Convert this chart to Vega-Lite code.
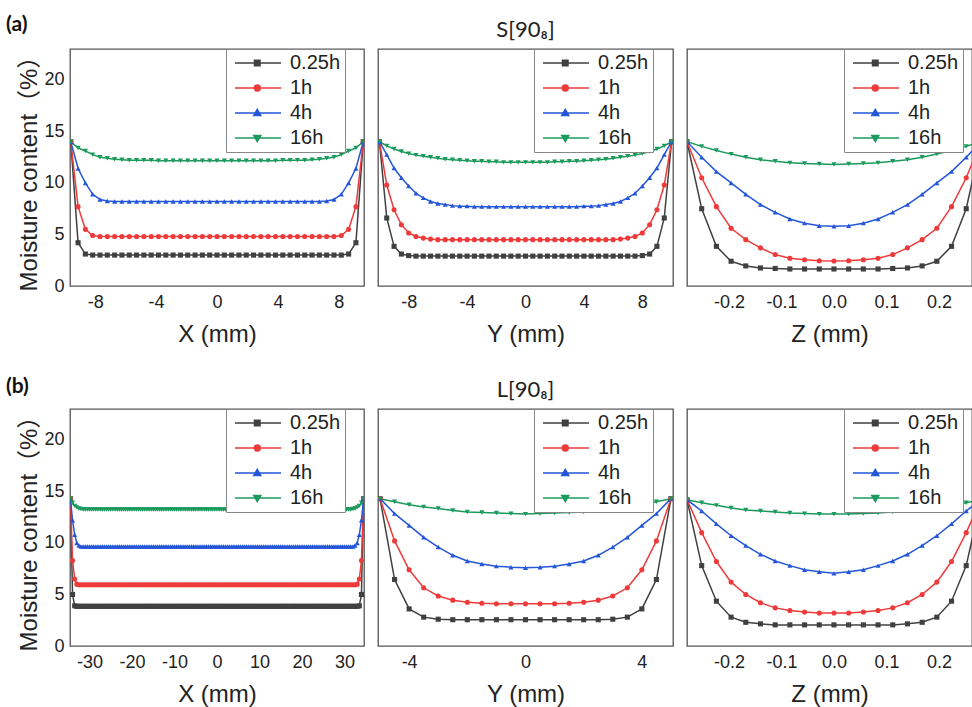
{
"$schema": "https://vega.github.io/schema/vega-lite/v6.json",
"padding": {"left": 5, "top": 13, "right": 0, "bottom": 0},
"background": "white",
"bounds": "flush",
"align": "each",
"columns": 3,
"spacing": {"row": 123, "column": 14},
"data": {"values": [
{"p":"a1","x":-9.6,"h025":14,"h1":14,"h4":14,"h16":14},
{"p":"a1","x":-9.12,"h025":4.2,"h1":7.7,"h4":11.4,"h16":13.4},
{"p":"a1","x":-8.64,"h025":3.1,"h1":5.5,"h4":10,"h16":13.1},
{"p":"a1","x":-8.16,"h025":3,"h1":4.9,"h4":8.9,"h16":12.75},
{"p":"a1","x":-7.68,"h025":3,"h1":4.8,"h4":8.4,"h16":12.5},
{"p":"a1","x":-7.2,"h025":3,"h1":4.8,"h4":8.25,"h16":12.4},
{"p":"a1","x":-6.72,"h025":3,"h1":4.8,"h4":8.2,"h16":12.3},
{"p":"a1","x":-6.24,"h025":3,"h1":4.8,"h4":8.2,"h16":12.25},
{"p":"a1","x":-5.76,"h025":3,"h1":4.8,"h4":8.2,"h16":12.2},
{"p":"a1","x":-5.28,"h025":3,"h1":4.8,"h4":8.2,"h16":12.2},
{"p":"a1","x":-4.8,"h025":3,"h1":4.8,"h4":8.2,"h16":12.2},
{"p":"a1","x":-4.32,"h025":3,"h1":4.8,"h4":8.2,"h16":12.2},
{"p":"a1","x":-3.84,"h025":3,"h1":4.8,"h4":8.2,"h16":12.15},
{"p":"a1","x":-3.36,"h025":3,"h1":4.8,"h4":8.2,"h16":12.15},
{"p":"a1","x":-2.88,"h025":3,"h1":4.8,"h4":8.2,"h16":12.15},
{"p":"a1","x":-2.4,"h025":3,"h1":4.8,"h4":8.2,"h16":12.15},
{"p":"a1","x":-1.92,"h025":3,"h1":4.8,"h4":8.2,"h16":12.15},
{"p":"a1","x":-1.44,"h025":3,"h1":4.8,"h4":8.2,"h16":12.15},
{"p":"a1","x":-0.96,"h025":3,"h1":4.8,"h4":8.2,"h16":12.15},
{"p":"a1","x":-0.48,"h025":3,"h1":4.8,"h4":8.2,"h16":12.15},
{"p":"a1","x":0,"h025":3,"h1":4.8,"h4":8.2,"h16":12.15},
{"p":"a1","x":0.48,"h025":3,"h1":4.8,"h4":8.2,"h16":12.15},
{"p":"a1","x":0.96,"h025":3,"h1":4.8,"h4":8.2,"h16":12.15},
{"p":"a1","x":1.44,"h025":3,"h1":4.8,"h4":8.2,"h16":12.15},
{"p":"a1","x":1.92,"h025":3,"h1":4.8,"h4":8.2,"h16":12.15},
{"p":"a1","x":2.4,"h025":3,"h1":4.8,"h4":8.2,"h16":12.15},
{"p":"a1","x":2.88,"h025":3,"h1":4.8,"h4":8.2,"h16":12.15},
{"p":"a1","x":3.36,"h025":3,"h1":4.8,"h4":8.2,"h16":12.15},
{"p":"a1","x":3.84,"h025":3,"h1":4.8,"h4":8.2,"h16":12.15},
{"p":"a1","x":4.32,"h025":3,"h1":4.8,"h4":8.2,"h16":12.2},
{"p":"a1","x":4.8,"h025":3,"h1":4.8,"h4":8.2,"h16":12.2},
{"p":"a1","x":5.28,"h025":3,"h1":4.8,"h4":8.2,"h16":12.2},
{"p":"a1","x":5.76,"h025":3,"h1":4.8,"h4":8.2,"h16":12.2},
{"p":"a1","x":6.24,"h025":3,"h1":4.8,"h4":8.2,"h16":12.25},
{"p":"a1","x":6.72,"h025":3,"h1":4.8,"h4":8.2,"h16":12.3},
{"p":"a1","x":7.2,"h025":3,"h1":4.8,"h4":8.25,"h16":12.4},
{"p":"a1","x":7.68,"h025":3,"h1":4.8,"h4":8.4,"h16":12.5},
{"p":"a1","x":8.16,"h025":3,"h1":4.9,"h4":8.9,"h16":12.75},
{"p":"a1","x":8.64,"h025":3.1,"h1":5.5,"h4":10,"h16":13.1},
{"p":"a1","x":9.12,"h025":4.2,"h1":7.7,"h4":11.4,"h16":13.4},
{"p":"a1","x":9.6,"h025":14,"h1":14,"h4":14,"h16":14},
{"p":"a2","x":-10,"h025":14,"h1":14,"h4":14,"h16":14},
{"p":"a2","x":-9.5,"h025":6.6,"h1":9.8,"h4":12.75,"h16":13.6},
{"p":"a2","x":-9,"h025":3.85,"h1":7.4,"h4":11.45,"h16":13.3},
{"p":"a2","x":-8.5,"h025":3.1,"h1":5.95,"h4":10.5,"h16":13.05},
{"p":"a2","x":-8,"h025":2.95,"h1":5.15,"h4":9.7,"h16":12.85},
{"p":"a2","x":-7.5,"h025":2.9,"h1":4.8,"h4":9,"h16":12.7},
{"p":"a2","x":-7,"h025":2.9,"h1":4.65,"h4":8.55,"h16":12.6},
{"p":"a2","x":-6.5,"h025":2.9,"h1":4.55,"h4":8.2,"h16":12.5},
{"p":"a2","x":-6,"h025":2.9,"h1":4.5,"h4":8,"h16":12.4},
{"p":"a2","x":-5.5,"h025":2.9,"h1":4.5,"h4":7.9,"h16":12.3},
{"p":"a2","x":-5,"h025":2.9,"h1":4.5,"h4":7.8,"h16":12.25},
{"p":"a2","x":-4.5,"h025":2.9,"h1":4.5,"h4":7.75,"h16":12.2},
{"p":"a2","x":-4,"h025":2.9,"h1":4.5,"h4":7.75,"h16":12.15},
{"p":"a2","x":-3.5,"h025":2.9,"h1":4.5,"h4":7.7,"h16":12.1},
{"p":"a2","x":-3,"h025":2.9,"h1":4.5,"h4":7.7,"h16":12.1},
{"p":"a2","x":-2.5,"h025":2.9,"h1":4.5,"h4":7.7,"h16":12.05},
{"p":"a2","x":-2,"h025":2.9,"h1":4.5,"h4":7.7,"h16":12.05},
{"p":"a2","x":-1.5,"h025":2.9,"h1":4.5,"h4":7.7,"h16":12},
{"p":"a2","x":-1,"h025":2.9,"h1":4.5,"h4":7.7,"h16":12},
{"p":"a2","x":-0.5,"h025":2.9,"h1":4.5,"h4":7.7,"h16":12},
{"p":"a2","x":0,"h025":2.9,"h1":4.5,"h4":7.7,"h16":12},
{"p":"a2","x":0.5,"h025":2.9,"h1":4.5,"h4":7.7,"h16":12},
{"p":"a2","x":1,"h025":2.9,"h1":4.5,"h4":7.7,"h16":12},
{"p":"a2","x":1.5,"h025":2.9,"h1":4.5,"h4":7.7,"h16":12},
{"p":"a2","x":2,"h025":2.9,"h1":4.5,"h4":7.7,"h16":12.05},
{"p":"a2","x":2.5,"h025":2.9,"h1":4.5,"h4":7.7,"h16":12.05},
{"p":"a2","x":3,"h025":2.9,"h1":4.5,"h4":7.7,"h16":12.1},
{"p":"a2","x":3.5,"h025":2.9,"h1":4.5,"h4":7.7,"h16":12.1},
{"p":"a2","x":4,"h025":2.9,"h1":4.5,"h4":7.75,"h16":12.15},
{"p":"a2","x":4.5,"h025":2.9,"h1":4.5,"h4":7.75,"h16":12.2},
{"p":"a2","x":5,"h025":2.9,"h1":4.5,"h4":7.8,"h16":12.25},
{"p":"a2","x":5.5,"h025":2.9,"h1":4.5,"h4":7.9,"h16":12.3},
{"p":"a2","x":6,"h025":2.9,"h1":4.5,"h4":8,"h16":12.4},
{"p":"a2","x":6.5,"h025":2.9,"h1":4.55,"h4":8.2,"h16":12.5},
{"p":"a2","x":7,"h025":2.9,"h1":4.65,"h4":8.55,"h16":12.6},
{"p":"a2","x":7.5,"h025":2.9,"h1":4.8,"h4":9,"h16":12.7},
{"p":"a2","x":8,"h025":2.95,"h1":5.15,"h4":9.7,"h16":12.85},
{"p":"a2","x":8.5,"h025":3.1,"h1":5.95,"h4":10.5,"h16":13.05},
{"p":"a2","x":9,"h025":3.85,"h1":7.4,"h4":11.45,"h16":13.3},
{"p":"a2","x":9.5,"h025":6.6,"h1":9.8,"h4":12.75,"h16":13.6},
{"p":"a2","x":10,"h025":14,"h1":14,"h4":14,"h16":14},
{"p":"a3","x":-0.28,"h025":14,"h1":14,"h4":14,"h16":14},
{"p":"a3","x":-0.252,"h025":7.5,"h1":10.5,"h4":12.5,"h16":13.55},
{"p":"a3","x":-0.224,"h025":3.85,"h1":7.7,"h4":11.1,"h16":13.15},
{"p":"a3","x":-0.196,"h025":2.4,"h1":5.6,"h4":10,"h16":12.8},
{"p":"a3","x":-0.168,"h025":1.95,"h1":4.5,"h4":8.9,"h16":12.5},
{"p":"a3","x":-0.14,"h025":1.75,"h1":3.7,"h4":7.9,"h16":12.25},
{"p":"a3","x":-0.112,"h025":1.7,"h1":3.05,"h4":7.15,"h16":12.1},
{"p":"a3","x":-0.084,"h025":1.65,"h1":2.7,"h4":6.5,"h16":11.95},
{"p":"a3","x":-0.056,"h025":1.65,"h1":2.55,"h4":6.1,"h16":11.9},
{"p":"a3","x":-0.028,"h025":1.65,"h1":2.45,"h4":5.85,"h16":11.85},
{"p":"a3","x":0,"h025":1.65,"h1":2.43,"h4":5.8,"h16":11.8},
{"p":"a3","x":0.028,"h025":1.65,"h1":2.45,"h4":5.85,"h16":11.85},
{"p":"a3","x":0.056,"h025":1.65,"h1":2.55,"h4":6.1,"h16":11.9},
{"p":"a3","x":0.084,"h025":1.65,"h1":2.7,"h4":6.5,"h16":11.95},
{"p":"a3","x":0.112,"h025":1.7,"h1":3.05,"h4":7.15,"h16":12.1},
{"p":"a3","x":0.14,"h025":1.75,"h1":3.7,"h4":7.9,"h16":12.25},
{"p":"a3","x":0.168,"h025":1.95,"h1":4.5,"h4":8.9,"h16":12.5},
{"p":"a3","x":0.196,"h025":2.4,"h1":5.6,"h4":10,"h16":12.8},
{"p":"a3","x":0.224,"h025":3.85,"h1":7.7,"h4":11.1,"h16":13.15},
{"p":"a3","x":0.252,"h025":7.5,"h1":10.5,"h4":12.5,"h16":13.55},
{"p":"a3","x":0.28,"h025":14,"h1":14,"h4":14,"h16":14},
{"p":"b1","x":-34.5,"h025":14.3,"h1":14.3,"h4":14.3,"h16":14.3},
{"p":"b1","x":-34,"h025":5,"h1":8.3,"h4":12.2,"h16":13.9},
{"p":"b1","x":-33.5,"h025":3.9,"h1":6.5,"h4":10.8,"h16":13.6},
{"p":"b1","x":-33,"h025":3.85,"h1":6,"h4":10,"h16":13.45},
{"p":"b1","x":-32.5,"h025":3.85,"h1":5.95,"h4":9.75,"h16":13.35},
{"p":"b1","x":-32,"h025":3.85,"h1":5.95,"h4":9.65,"h16":13.3},
{"p":"b1","x":-31.5,"h025":3.85,"h1":5.95,"h4":9.65,"h16":13.25},
{"p":"b1","x":-31,"h025":3.85,"h1":5.95,"h4":9.65,"h16":13.25},
{"p":"b1","x":-30.5,"h025":3.85,"h1":5.95,"h4":9.65,"h16":13.25},
{"p":"b1","x":-30,"h025":3.85,"h1":5.95,"h4":9.65,"h16":13.25},
{"p":"b1","x":-29.5,"h025":3.85,"h1":5.95,"h4":9.65,"h16":13.25},
{"p":"b1","x":-29,"h025":3.85,"h1":5.95,"h4":9.65,"h16":13.25},
{"p":"b1","x":-28.5,"h025":3.85,"h1":5.95,"h4":9.65,"h16":13.25},
{"p":"b1","x":-28,"h025":3.85,"h1":5.95,"h4":9.65,"h16":13.25},
{"p":"b1","x":-27.5,"h025":3.85,"h1":5.95,"h4":9.65,"h16":13.25},
{"p":"b1","x":-27,"h025":3.85,"h1":5.95,"h4":9.65,"h16":13.25},
{"p":"b1","x":-26.5,"h025":3.85,"h1":5.95,"h4":9.65,"h16":13.25},
{"p":"b1","x":-26,"h025":3.85,"h1":5.95,"h4":9.65,"h16":13.25},
{"p":"b1","x":-25.5,"h025":3.85,"h1":5.95,"h4":9.65,"h16":13.25},
{"p":"b1","x":-25,"h025":3.85,"h1":5.95,"h4":9.65,"h16":13.25},
{"p":"b1","x":-24.5,"h025":3.85,"h1":5.95,"h4":9.65,"h16":13.25},
{"p":"b1","x":-24,"h025":3.85,"h1":5.95,"h4":9.65,"h16":13.25},
{"p":"b1","x":-23.5,"h025":3.85,"h1":5.95,"h4":9.65,"h16":13.25},
{"p":"b1","x":-23,"h025":3.85,"h1":5.95,"h4":9.65,"h16":13.25},
{"p":"b1","x":-22.5,"h025":3.85,"h1":5.95,"h4":9.65,"h16":13.25},
{"p":"b1","x":-22,"h025":3.85,"h1":5.95,"h4":9.65,"h16":13.25},
{"p":"b1","x":-21.5,"h025":3.85,"h1":5.95,"h4":9.65,"h16":13.25},
{"p":"b1","x":-21,"h025":3.85,"h1":5.95,"h4":9.65,"h16":13.25},
{"p":"b1","x":-20.5,"h025":3.85,"h1":5.95,"h4":9.65,"h16":13.25},
{"p":"b1","x":-20,"h025":3.85,"h1":5.95,"h4":9.65,"h16":13.25},
{"p":"b1","x":-19.5,"h025":3.85,"h1":5.95,"h4":9.65,"h16":13.25},
{"p":"b1","x":-19,"h025":3.85,"h1":5.95,"h4":9.65,"h16":13.25},
{"p":"b1","x":-18.5,"h025":3.85,"h1":5.95,"h4":9.65,"h16":13.25},
{"p":"b1","x":-18,"h025":3.85,"h1":5.95,"h4":9.65,"h16":13.25},
{"p":"b1","x":-17.5,"h025":3.85,"h1":5.95,"h4":9.65,"h16":13.25},
{"p":"b1","x":-17,"h025":3.85,"h1":5.95,"h4":9.65,"h16":13.25},
{"p":"b1","x":-16.5,"h025":3.85,"h1":5.95,"h4":9.65,"h16":13.25},
{"p":"b1","x":-16,"h025":3.85,"h1":5.95,"h4":9.65,"h16":13.25},
{"p":"b1","x":-15.5,"h025":3.85,"h1":5.95,"h4":9.65,"h16":13.25},
{"p":"b1","x":-15,"h025":3.85,"h1":5.95,"h4":9.65,"h16":13.25},
{"p":"b1","x":-14.5,"h025":3.85,"h1":5.95,"h4":9.65,"h16":13.25},
{"p":"b1","x":-14,"h025":3.85,"h1":5.95,"h4":9.65,"h16":13.25},
{"p":"b1","x":-13.5,"h025":3.85,"h1":5.95,"h4":9.65,"h16":13.25},
{"p":"b1","x":-13,"h025":3.85,"h1":5.95,"h4":9.65,"h16":13.25},
{"p":"b1","x":-12.5,"h025":3.85,"h1":5.95,"h4":9.65,"h16":13.25},
{"p":"b1","x":-12,"h025":3.85,"h1":5.95,"h4":9.65,"h16":13.25},
{"p":"b1","x":-11.5,"h025":3.85,"h1":5.95,"h4":9.65,"h16":13.25},
{"p":"b1","x":-11,"h025":3.85,"h1":5.95,"h4":9.65,"h16":13.25},
{"p":"b1","x":-10.5,"h025":3.85,"h1":5.95,"h4":9.65,"h16":13.25},
{"p":"b1","x":-10,"h025":3.85,"h1":5.95,"h4":9.65,"h16":13.25},
{"p":"b1","x":-9.5,"h025":3.85,"h1":5.95,"h4":9.65,"h16":13.25},
{"p":"b1","x":-9,"h025":3.85,"h1":5.95,"h4":9.65,"h16":13.25},
{"p":"b1","x":-8.5,"h025":3.85,"h1":5.95,"h4":9.65,"h16":13.25},
{"p":"b1","x":-8,"h025":3.85,"h1":5.95,"h4":9.65,"h16":13.25},
{"p":"b1","x":-7.5,"h025":3.85,"h1":5.95,"h4":9.65,"h16":13.25},
{"p":"b1","x":-7,"h025":3.85,"h1":5.95,"h4":9.65,"h16":13.25},
{"p":"b1","x":-6.5,"h025":3.85,"h1":5.95,"h4":9.65,"h16":13.25},
{"p":"b1","x":-6,"h025":3.85,"h1":5.95,"h4":9.65,"h16":13.25},
{"p":"b1","x":-5.5,"h025":3.85,"h1":5.95,"h4":9.65,"h16":13.25},
{"p":"b1","x":-5,"h025":3.85,"h1":5.95,"h4":9.65,"h16":13.25},
{"p":"b1","x":-4.5,"h025":3.85,"h1":5.95,"h4":9.65,"h16":13.25},
{"p":"b1","x":-4,"h025":3.85,"h1":5.95,"h4":9.65,"h16":13.25},
{"p":"b1","x":-3.5,"h025":3.85,"h1":5.95,"h4":9.65,"h16":13.25},
{"p":"b1","x":-3,"h025":3.85,"h1":5.95,"h4":9.65,"h16":13.25},
{"p":"b1","x":-2.5,"h025":3.85,"h1":5.95,"h4":9.65,"h16":13.25},
{"p":"b1","x":-2,"h025":3.85,"h1":5.95,"h4":9.65,"h16":13.25},
{"p":"b1","x":-1.5,"h025":3.85,"h1":5.95,"h4":9.65,"h16":13.25},
{"p":"b1","x":-1,"h025":3.85,"h1":5.95,"h4":9.65,"h16":13.25},
{"p":"b1","x":-0.5,"h025":3.85,"h1":5.95,"h4":9.65,"h16":13.25},
{"p":"b1","x":0,"h025":3.85,"h1":5.95,"h4":9.65,"h16":13.25},
{"p":"b1","x":0.5,"h025":3.85,"h1":5.95,"h4":9.65,"h16":13.25},
{"p":"b1","x":1,"h025":3.85,"h1":5.95,"h4":9.65,"h16":13.25},
{"p":"b1","x":1.5,"h025":3.85,"h1":5.95,"h4":9.65,"h16":13.25},
{"p":"b1","x":2,"h025":3.85,"h1":5.95,"h4":9.65,"h16":13.25},
{"p":"b1","x":2.5,"h025":3.85,"h1":5.95,"h4":9.65,"h16":13.25},
{"p":"b1","x":3,"h025":3.85,"h1":5.95,"h4":9.65,"h16":13.25},
{"p":"b1","x":3.5,"h025":3.85,"h1":5.95,"h4":9.65,"h16":13.25},
{"p":"b1","x":4,"h025":3.85,"h1":5.95,"h4":9.65,"h16":13.25},
{"p":"b1","x":4.5,"h025":3.85,"h1":5.95,"h4":9.65,"h16":13.25},
{"p":"b1","x":5,"h025":3.85,"h1":5.95,"h4":9.65,"h16":13.25},
{"p":"b1","x":5.5,"h025":3.85,"h1":5.95,"h4":9.65,"h16":13.25},
{"p":"b1","x":6,"h025":3.85,"h1":5.95,"h4":9.65,"h16":13.25},
{"p":"b1","x":6.5,"h025":3.85,"h1":5.95,"h4":9.65,"h16":13.25},
{"p":"b1","x":7,"h025":3.85,"h1":5.95,"h4":9.65,"h16":13.25},
{"p":"b1","x":7.5,"h025":3.85,"h1":5.95,"h4":9.65,"h16":13.25},
{"p":"b1","x":8,"h025":3.85,"h1":5.95,"h4":9.65,"h16":13.25},
{"p":"b1","x":8.5,"h025":3.85,"h1":5.95,"h4":9.65,"h16":13.25},
{"p":"b1","x":9,"h025":3.85,"h1":5.95,"h4":9.65,"h16":13.25},
{"p":"b1","x":9.5,"h025":3.85,"h1":5.95,"h4":9.65,"h16":13.25},
{"p":"b1","x":10,"h025":3.85,"h1":5.95,"h4":9.65,"h16":13.25},
{"p":"b1","x":10.5,"h025":3.85,"h1":5.95,"h4":9.65,"h16":13.25},
{"p":"b1","x":11,"h025":3.85,"h1":5.95,"h4":9.65,"h16":13.25},
{"p":"b1","x":11.5,"h025":3.85,"h1":5.95,"h4":9.65,"h16":13.25},
{"p":"b1","x":12,"h025":3.85,"h1":5.95,"h4":9.65,"h16":13.25},
{"p":"b1","x":12.5,"h025":3.85,"h1":5.95,"h4":9.65,"h16":13.25},
{"p":"b1","x":13,"h025":3.85,"h1":5.95,"h4":9.65,"h16":13.25},
{"p":"b1","x":13.5,"h025":3.85,"h1":5.95,"h4":9.65,"h16":13.25},
{"p":"b1","x":14,"h025":3.85,"h1":5.95,"h4":9.65,"h16":13.25},
{"p":"b1","x":14.5,"h025":3.85,"h1":5.95,"h4":9.65,"h16":13.25},
{"p":"b1","x":15,"h025":3.85,"h1":5.95,"h4":9.65,"h16":13.25},
{"p":"b1","x":15.5,"h025":3.85,"h1":5.95,"h4":9.65,"h16":13.25},
{"p":"b1","x":16,"h025":3.85,"h1":5.95,"h4":9.65,"h16":13.25},
{"p":"b1","x":16.5,"h025":3.85,"h1":5.95,"h4":9.65,"h16":13.25},
{"p":"b1","x":17,"h025":3.85,"h1":5.95,"h4":9.65,"h16":13.25},
{"p":"b1","x":17.5,"h025":3.85,"h1":5.95,"h4":9.65,"h16":13.25},
{"p":"b1","x":18,"h025":3.85,"h1":5.95,"h4":9.65,"h16":13.25},
{"p":"b1","x":18.5,"h025":3.85,"h1":5.95,"h4":9.65,"h16":13.25},
{"p":"b1","x":19,"h025":3.85,"h1":5.95,"h4":9.65,"h16":13.25},
{"p":"b1","x":19.5,"h025":3.85,"h1":5.95,"h4":9.65,"h16":13.25},
{"p":"b1","x":20,"h025":3.85,"h1":5.95,"h4":9.65,"h16":13.25},
{"p":"b1","x":20.5,"h025":3.85,"h1":5.95,"h4":9.65,"h16":13.25},
{"p":"b1","x":21,"h025":3.85,"h1":5.95,"h4":9.65,"h16":13.25},
{"p":"b1","x":21.5,"h025":3.85,"h1":5.95,"h4":9.65,"h16":13.25},
{"p":"b1","x":22,"h025":3.85,"h1":5.95,"h4":9.65,"h16":13.25},
{"p":"b1","x":22.5,"h025":3.85,"h1":5.95,"h4":9.65,"h16":13.25},
{"p":"b1","x":23,"h025":3.85,"h1":5.95,"h4":9.65,"h16":13.25},
{"p":"b1","x":23.5,"h025":3.85,"h1":5.95,"h4":9.65,"h16":13.25},
{"p":"b1","x":24,"h025":3.85,"h1":5.95,"h4":9.65,"h16":13.25},
{"p":"b1","x":24.5,"h025":3.85,"h1":5.95,"h4":9.65,"h16":13.25},
{"p":"b1","x":25,"h025":3.85,"h1":5.95,"h4":9.65,"h16":13.25},
{"p":"b1","x":25.5,"h025":3.85,"h1":5.95,"h4":9.65,"h16":13.25},
{"p":"b1","x":26,"h025":3.85,"h1":5.95,"h4":9.65,"h16":13.25},
{"p":"b1","x":26.5,"h025":3.85,"h1":5.95,"h4":9.65,"h16":13.25},
{"p":"b1","x":27,"h025":3.85,"h1":5.95,"h4":9.65,"h16":13.25},
{"p":"b1","x":27.5,"h025":3.85,"h1":5.95,"h4":9.65,"h16":13.25},
{"p":"b1","x":28,"h025":3.85,"h1":5.95,"h4":9.65,"h16":13.25},
{"p":"b1","x":28.5,"h025":3.85,"h1":5.95,"h4":9.65,"h16":13.25},
{"p":"b1","x":29,"h025":3.85,"h1":5.95,"h4":9.65,"h16":13.25},
{"p":"b1","x":29.5,"h025":3.85,"h1":5.95,"h4":9.65,"h16":13.25},
{"p":"b1","x":30,"h025":3.85,"h1":5.95,"h4":9.65,"h16":13.25},
{"p":"b1","x":30.5,"h025":3.85,"h1":5.95,"h4":9.65,"h16":13.25},
{"p":"b1","x":31,"h025":3.85,"h1":5.95,"h4":9.65,"h16":13.25},
{"p":"b1","x":31.5,"h025":3.85,"h1":5.95,"h4":9.65,"h16":13.25},
{"p":"b1","x":32,"h025":3.85,"h1":5.95,"h4":9.65,"h16":13.3},
{"p":"b1","x":32.5,"h025":3.85,"h1":5.95,"h4":9.75,"h16":13.35},
{"p":"b1","x":33,"h025":3.85,"h1":6,"h4":10,"h16":13.45},
{"p":"b1","x":33.5,"h025":3.9,"h1":6.5,"h4":10.8,"h16":13.6},
{"p":"b1","x":34,"h025":5,"h1":8.3,"h4":12.2,"h16":13.9},
{"p":"b1","x":34.5,"h025":14.3,"h1":14.3,"h4":14.3,"h16":14.3},
{"p":"b2","x":-5,"h025":14.3,"h1":14.3,"h4":14.3,"h16":14.3},
{"p":"b2","x":-4.5,"h025":6.45,"h1":10.2,"h4":12.85,"h16":14},
{"p":"b2","x":-4,"h025":3.6,"h1":7.4,"h4":11.7,"h16":13.7},
{"p":"b2","x":-3.5,"h025":2.8,"h1":5.65,"h4":10.55,"h16":13.5},
{"p":"b2","x":-3,"h025":2.6,"h1":4.85,"h4":9.6,"h16":13.35},
{"p":"b2","x":-2.5,"h025":2.55,"h1":4.45,"h4":8.8,"h16":13.15},
{"p":"b2","x":-2,"h025":2.55,"h1":4.25,"h4":8.25,"h16":13},
{"p":"b2","x":-1.5,"h025":2.55,"h1":4.15,"h4":7.95,"h16":12.95},
{"p":"b2","x":-1,"h025":2.55,"h1":4.1,"h4":7.75,"h16":12.9},
{"p":"b2","x":-0.5,"h025":2.55,"h1":4.1,"h4":7.65,"h16":12.85},
{"p":"b2","x":0,"h025":2.55,"h1":4.1,"h4":7.6,"h16":12.8},
{"p":"b2","x":0.5,"h025":2.55,"h1":4.1,"h4":7.65,"h16":12.85},
{"p":"b2","x":1,"h025":2.55,"h1":4.1,"h4":7.75,"h16":12.9},
{"p":"b2","x":1.5,"h025":2.55,"h1":4.15,"h4":7.95,"h16":12.95},
{"p":"b2","x":2,"h025":2.55,"h1":4.25,"h4":8.25,"h16":13},
{"p":"b2","x":2.5,"h025":2.55,"h1":4.45,"h4":8.8,"h16":13.15},
{"p":"b2","x":3,"h025":2.6,"h1":4.85,"h4":9.6,"h16":13.35},
{"p":"b2","x":3.5,"h025":2.8,"h1":5.65,"h4":10.55,"h16":13.5},
{"p":"b2","x":4,"h025":3.6,"h1":7.4,"h4":11.7,"h16":13.7},
{"p":"b2","x":4.5,"h025":6.45,"h1":10.2,"h4":12.85,"h16":14},
{"p":"b2","x":5,"h025":14.3,"h1":14.3,"h4":14.3,"h16":14.3},
{"p":"b3","x":-0.28,"h025":14.2,"h1":14.2,"h4":14.2,"h16":14.2},
{"p":"b3","x":-0.252,"h025":7.8,"h1":11,"h4":13.1,"h16":13.9},
{"p":"b3","x":-0.224,"h025":4.35,"h1":8.2,"h4":11.85,"h16":13.65},
{"p":"b3","x":-0.196,"h025":2.8,"h1":6.2,"h4":10.7,"h16":13.4},
{"p":"b3","x":-0.168,"h025":2.3,"h1":5,"h4":9.75,"h16":13.2},
{"p":"b3","x":-0.14,"h025":2.15,"h1":4.2,"h4":8.9,"h16":13.1},
{"p":"b3","x":-0.112,"h025":2.05,"h1":3.7,"h4":8.25,"h16":13},
{"p":"b3","x":-0.084,"h025":2.05,"h1":3.45,"h4":7.8,"h16":12.9},
{"p":"b3","x":-0.056,"h025":2.05,"h1":3.3,"h4":7.4,"h16":12.85},
{"p":"b3","x":-0.028,"h025":2.05,"h1":3.2,"h4":7.2,"h16":12.8},
{"p":"b3","x":0,"h025":2.05,"h1":3.2,"h4":7.05,"h16":12.8},
{"p":"b3","x":0.028,"h025":2.05,"h1":3.2,"h4":7.2,"h16":12.8},
{"p":"b3","x":0.056,"h025":2.05,"h1":3.3,"h4":7.4,"h16":12.85},
{"p":"b3","x":0.084,"h025":2.05,"h1":3.45,"h4":7.8,"h16":12.9},
{"p":"b3","x":0.112,"h025":2.05,"h1":3.7,"h4":8.25,"h16":13},
{"p":"b3","x":0.14,"h025":2.15,"h1":4.2,"h4":8.9,"h16":13.1},
{"p":"b3","x":0.168,"h025":2.3,"h1":5,"h4":9.75,"h16":13.2},
{"p":"b3","x":0.196,"h025":2.8,"h1":6.2,"h4":10.7,"h16":13.4},
{"p":"b3","x":0.224,"h025":4.35,"h1":8.2,"h4":11.85,"h16":13.65},
{"p":"b3","x":0.252,"h025":7.8,"h1":11,"h4":13.1,"h16":13.9},
{"p":"b3","x":0.28,"h025":14.2,"h1":14.2,"h4":14.2,"h16":14.2}
]},
"resolve": {"scale": {"color": "independent", "shape": "independent", "fill": "independent", "stroke": "independent"}, "legend": {"color": "independent", "shape": "independent", "fill": "independent", "stroke": "independent"}},
"concat": [
{
 "width": 294, "height": 237,
 "title": {"text": "(a)", "anchor": "start", "frame": "group", "dx": -64, "offset": -8, "baseline": "alphabetic", "font": "Lato", "fontSize": 21, "fontWeight": "bold", "color": "#111"},
 "transform": [{"filter": "datum.p == 'a1'"}, {"fold": ["h025", "h1", "h4", "h16"], "as": ["t", "mc"]}],
 "encoding": {
  "x": {"field": "x", "type": "quantitative", "scale": {"domain": [-9.65, 9.65], "nice": false, "zero": false}, "axis": {"values": [-8, -4, 0, 4, 8], "title": "X (mm)"}},
  "y": {"field": "mc", "type": "quantitative", "scale": {"domain": [0, 23], "nice": false}, "axis": {"values": [0, 5, 10, 15, 20], "title": "Moisture content（%）"}}
 },
 "layer": [
  {"mark": {"type": "line", "strokeWidth": 1.5, "clip": true}, "encoding": {"color": {"field": "t", "type": "nominal", "scale": {"domain": ["h025", "h1", "h4", "h16"], "range": ["#404040", "#ee3a3a", "#2356d8", "#1b9a5c"]}, "legend": null}}},
  {"mark": {"type": "point", "filled": true, "size": 26, "opacity": 1, "strokeWidth": 0, "clip": true},
   "encoding": {"color": {"field": "t", "type": "nominal", "scale": {"domain": ["h025", "h1", "h4", "h16"], "range": ["#404040", "#ee3a3a", "#2356d8", "#1b9a5c"]}, "legend": null}, "shape": {"field": "t", "type": "nominal", "scale": {"domain": ["h025", "h1", "h4", "h16"], "range": ["square", "circle", "triangle-up", "triangle-down"]}, "legend": null}}},
  {"transform": [{"filter": "false"}], "mark": {"type": "point", "filled": true, "size": 100, "opacity": 1, "strokeWidth": 1.5},
   "encoding": {
    "fill": {"field": "t", "type": "nominal", "scale": {"domain": ["h025", "h1", "h4", "h16"], "range": ["#404040", "#ee3a3a", "#2356d8", "#1b9a5c"]}, "legend": {"orient": "none", "legendX": 156, "legendY": 0, "title": null, "labelExpr": "datum.value == 'h025' ? '0.25h' : datum.value == 'h1' ? '1h' : datum.value == 'h4' ? '4h' : '16h'"}},
    "stroke": {"field": "t", "type": "nominal", "scale": {"domain": ["h025", "h1", "h4", "h16"], "range": ["#404040", "#ee3a3a", "#2356d8", "#1b9a5c"]}, "legend": {"orient": "none", "legendX": 156, "legendY": 0, "title": null, "labelExpr": "datum.value == 'h025' ? '0.25h' : datum.value == 'h1' ? '1h' : datum.value == 'h4' ? '4h' : '16h'"}},
    "shape": {"field": "t", "type": "nominal", "scale": {"domain": ["h025", "h1", "h4", "h16"], "range": ["M-1,0H8.2M2.9,-0.55H4V0.55H2.9Z", "M-1,0H8.2M2.85,0A0.6,0.6 0 1,0 4.05,0A0.6,0.6 0 1,0 2.85,0Z", "M-1,0H8.2M3.45,-0.7L4.15,0.5H2.75Z", "M-1,0H8.2M3.45,0.7L4.15,-0.5H2.75Z"]}, "legend": {"orient": "none", "legendX": 156, "legendY": 0, "title": null, "labelExpr": "datum.value == 'h025' ? '0.25h' : datum.value == 'h1' ? '1h' : datum.value == 'h4' ? '4h' : '16h'"}}}}
 ],
 "resolve": {"scale": {"shape": "independent", "fill": "independent", "stroke": "independent"}}
},
{
 "width": 295, "height": 237,
 "title": {"text": "S[90₈]", "anchor": "middle", "frame": "group", "offset": -10, "baseline": "alphabetic", "font": "Lato", "fontSize": 22, "fontWeight": "normal", "color": "#222"},
 "transform": [{"filter": "datum.p == 'a2'"}, {"fold": ["h025", "h1", "h4", "h16"], "as": ["t", "mc"]}],
 "encoding": {
  "x": {"field": "x", "type": "quantitative", "scale": {"domain": [-10.1, 10.1], "nice": false, "zero": false}, "axis": {"values": [-8, -4, 0, 4, 8], "title": "Y (mm)"}},
  "y": {"field": "mc", "type": "quantitative", "scale": {"domain": [0, 23], "nice": false}, "axis": null}
 },
 "layer": [
  {"mark": {"type": "line", "strokeWidth": 1.5, "clip": true}, "encoding": {"color": {"field": "t", "type": "nominal", "scale": {"domain": ["h025", "h1", "h4", "h16"], "range": ["#404040", "#ee3a3a", "#2356d8", "#1b9a5c"]}, "legend": null}}},
  {"mark": {"type": "point", "filled": true, "size": 26, "opacity": 1, "strokeWidth": 0, "clip": true},
   "encoding": {"color": {"field": "t", "type": "nominal", "scale": {"domain": ["h025", "h1", "h4", "h16"], "range": ["#404040", "#ee3a3a", "#2356d8", "#1b9a5c"]}, "legend": null}, "shape": {"field": "t", "type": "nominal", "scale": {"domain": ["h025", "h1", "h4", "h16"], "range": ["square", "circle", "triangle-up", "triangle-down"]}, "legend": null}}},
  {"transform": [{"filter": "false"}], "mark": {"type": "point", "filled": true, "size": 100, "opacity": 1, "strokeWidth": 1.5},
   "encoding": {
    "fill": {"field": "t", "type": "nominal", "scale": {"domain": ["h025", "h1", "h4", "h16"], "range": ["#404040", "#ee3a3a", "#2356d8", "#1b9a5c"]}, "legend": {"orient": "none", "legendX": 156, "legendY": 0, "title": null, "labelExpr": "datum.value == 'h025' ? '0.25h' : datum.value == 'h1' ? '1h' : datum.value == 'h4' ? '4h' : '16h'"}},
    "stroke": {"field": "t", "type": "nominal", "scale": {"domain": ["h025", "h1", "h4", "h16"], "range": ["#404040", "#ee3a3a", "#2356d8", "#1b9a5c"]}, "legend": {"orient": "none", "legendX": 156, "legendY": 0, "title": null, "labelExpr": "datum.value == 'h025' ? '0.25h' : datum.value == 'h1' ? '1h' : datum.value == 'h4' ? '4h' : '16h'"}},
    "shape": {"field": "t", "type": "nominal", "scale": {"domain": ["h025", "h1", "h4", "h16"], "range": ["M-1,0H8.2M2.9,-0.55H4V0.55H2.9Z", "M-1,0H8.2M2.85,0A0.6,0.6 0 1,0 4.05,0A0.6,0.6 0 1,0 2.85,0Z", "M-1,0H8.2M3.45,-0.7L4.15,0.5H2.75Z", "M-1,0H8.2M3.45,0.7L4.15,-0.5H2.75Z"]}, "legend": {"orient": "none", "legendX": 156, "legendY": 0, "title": null, "labelExpr": "datum.value == 'h025' ? '0.25h' : datum.value == 'h1' ? '1h' : datum.value == 'h4' ? '4h' : '16h'"}}}}
 ],
 "resolve": {"scale": {"shape": "independent", "fill": "independent", "stroke": "independent"}}
},
{
 "width": 285, "height": 237,
 "transform": [{"filter": "datum.p == 'a3'"}, {"fold": ["h025", "h1", "h4", "h16"], "as": ["t", "mc"]}],
 "encoding": {
  "x": {"field": "x", "type": "quantitative", "scale": {"domain": [-0.28, 0.263], "nice": false, "zero": false}, "axis": {"values": [-0.2, -0.1, 0, 0.1, 0.2], "format": ".1f", "title": "Z (mm)"}},
  "y": {"field": "mc", "type": "quantitative", "scale": {"domain": [0, 23], "nice": false}, "axis": null}
 },
 "layer": [
  {"mark": {"type": "line", "strokeWidth": 1.5, "clip": true}, "encoding": {"color": {"field": "t", "type": "nominal", "scale": {"domain": ["h025", "h1", "h4", "h16"], "range": ["#404040", "#ee3a3a", "#2356d8", "#1b9a5c"]}, "legend": null}}},
  {"mark": {"type": "point", "filled": true, "size": 26, "opacity": 1, "strokeWidth": 0, "clip": true},
   "encoding": {"color": {"field": "t", "type": "nominal", "scale": {"domain": ["h025", "h1", "h4", "h16"], "range": ["#404040", "#ee3a3a", "#2356d8", "#1b9a5c"]}, "legend": null}, "shape": {"field": "t", "type": "nominal", "scale": {"domain": ["h025", "h1", "h4", "h16"], "range": ["square", "circle", "triangle-up", "triangle-down"]}, "legend": null}}},
  {"transform": [{"filter": "false"}], "mark": {"type": "point", "filled": true, "size": 100, "opacity": 1, "strokeWidth": 1.5},
   "encoding": {
    "fill": {"field": "t", "type": "nominal", "scale": {"domain": ["h025", "h1", "h4", "h16"], "range": ["#404040", "#ee3a3a", "#2356d8", "#1b9a5c"]}, "legend": {"orient": "none", "legendX": 157, "legendY": 0, "title": null, "labelExpr": "datum.value == 'h025' ? '0.25h' : datum.value == 'h1' ? '1h' : datum.value == 'h4' ? '4h' : '16h'"}},
    "stroke": {"field": "t", "type": "nominal", "scale": {"domain": ["h025", "h1", "h4", "h16"], "range": ["#404040", "#ee3a3a", "#2356d8", "#1b9a5c"]}, "legend": {"orient": "none", "legendX": 157, "legendY": 0, "title": null, "labelExpr": "datum.value == 'h025' ? '0.25h' : datum.value == 'h1' ? '1h' : datum.value == 'h4' ? '4h' : '16h'"}},
    "shape": {"field": "t", "type": "nominal", "scale": {"domain": ["h025", "h1", "h4", "h16"], "range": ["M-1,0H8.2M2.9,-0.55H4V0.55H2.9Z", "M-1,0H8.2M2.85,0A0.6,0.6 0 1,0 4.05,0A0.6,0.6 0 1,0 2.85,0Z", "M-1,0H8.2M3.45,-0.7L4.15,0.5H2.75Z", "M-1,0H8.2M3.45,0.7L4.15,-0.5H2.75Z"]}, "legend": {"orient": "none", "legendX": 157, "legendY": 0, "title": null, "labelExpr": "datum.value == 'h025' ? '0.25h' : datum.value == 'h1' ? '1h' : datum.value == 'h4' ? '4h' : '16h'"}}}}
 ],
 "resolve": {"scale": {"shape": "independent", "fill": "independent", "stroke": "independent"}}
},
{
 "width": 294, "height": 237,
 "title": {"text": "(b)", "anchor": "start", "frame": "group", "dx": -64, "offset": -10, "baseline": "alphabetic", "font": "Lato", "fontSize": 21, "fontWeight": "bold", "color": "#111"},
 "transform": [{"filter": "datum.p == 'b1'"}, {"fold": ["h025", "h1", "h4", "h16"], "as": ["t", "mc"]}],
 "encoding": {
  "x": {"field": "x", "type": "quantitative", "scale": {"domain": [-34.6, 34.6], "nice": false, "zero": false}, "axis": {"values": [-30, -20, -10, 0, 10, 20, 30], "title": "X (mm)"}},
  "y": {"field": "mc", "type": "quantitative", "scale": {"domain": [0, 23], "nice": false}, "axis": {"values": [0, 5, 10, 15, 20], "title": "Moisture content（%）"}}
 },
 "layer": [
  {"mark": {"type": "line", "strokeWidth": 1.5, "clip": true}, "encoding": {"color": {"field": "t", "type": "nominal", "scale": {"domain": ["h025", "h1", "h4", "h16"], "range": ["#404040", "#ee3a3a", "#2356d8", "#1b9a5c"]}, "legend": null}}},
  {"mark": {"type": "point", "filled": true, "size": 26, "opacity": 1, "strokeWidth": 0, "clip": true},
   "encoding": {"color": {"field": "t", "type": "nominal", "scale": {"domain": ["h025", "h1", "h4", "h16"], "range": ["#404040", "#ee3a3a", "#2356d8", "#1b9a5c"]}, "legend": null}, "shape": {"field": "t", "type": "nominal", "scale": {"domain": ["h025", "h1", "h4", "h16"], "range": ["square", "circle", "triangle-up", "triangle-down"]}, "legend": null}}},
  {"transform": [{"filter": "false"}], "mark": {"type": "point", "filled": true, "size": 100, "opacity": 1, "strokeWidth": 1.5},
   "encoding": {
    "fill": {"field": "t", "type": "nominal", "scale": {"domain": ["h025", "h1", "h4", "h16"], "range": ["#404040", "#ee3a3a", "#2356d8", "#1b9a5c"]}, "legend": {"orient": "none", "legendX": 156, "legendY": 0, "title": null, "labelExpr": "datum.value == 'h025' ? '0.25h' : datum.value == 'h1' ? '1h' : datum.value == 'h4' ? '4h' : '16h'"}},
    "stroke": {"field": "t", "type": "nominal", "scale": {"domain": ["h025", "h1", "h4", "h16"], "range": ["#404040", "#ee3a3a", "#2356d8", "#1b9a5c"]}, "legend": {"orient": "none", "legendX": 156, "legendY": 0, "title": null, "labelExpr": "datum.value == 'h025' ? '0.25h' : datum.value == 'h1' ? '1h' : datum.value == 'h4' ? '4h' : '16h'"}},
    "shape": {"field": "t", "type": "nominal", "scale": {"domain": ["h025", "h1", "h4", "h16"], "range": ["M-1,0H8.2M2.9,-0.55H4V0.55H2.9Z", "M-1,0H8.2M2.85,0A0.6,0.6 0 1,0 4.05,0A0.6,0.6 0 1,0 2.85,0Z", "M-1,0H8.2M3.45,-0.7L4.15,0.5H2.75Z", "M-1,0H8.2M3.45,0.7L4.15,-0.5H2.75Z"]}, "legend": {"orient": "none", "legendX": 156, "legendY": 0, "title": null, "labelExpr": "datum.value == 'h025' ? '0.25h' : datum.value == 'h1' ? '1h' : datum.value == 'h4' ? '4h' : '16h'"}}}}
 ],
 "resolve": {"scale": {"shape": "independent", "fill": "independent", "stroke": "independent"}}
},
{
 "width": 295, "height": 237,
 "title": {"text": "L[90₈]", "anchor": "middle", "frame": "group", "offset": -10, "baseline": "alphabetic", "font": "Lato", "fontSize": 22, "fontWeight": "normal", "color": "#222"},
 "transform": [{"filter": "datum.p == 'b2'"}, {"fold": ["h025", "h1", "h4", "h16"], "as": ["t", "mc"]}],
 "encoding": {
  "x": {"field": "x", "type": "quantitative", "scale": {"domain": [-5.07, 5.07], "nice": false, "zero": false}, "axis": {"values": [-4, 0, 4], "title": "Y (mm)"}},
  "y": {"field": "mc", "type": "quantitative", "scale": {"domain": [0, 23], "nice": false}, "axis": null}
 },
 "layer": [
  {"mark": {"type": "line", "strokeWidth": 1.5, "clip": true}, "encoding": {"color": {"field": "t", "type": "nominal", "scale": {"domain": ["h025", "h1", "h4", "h16"], "range": ["#404040", "#ee3a3a", "#2356d8", "#1b9a5c"]}, "legend": null}}},
  {"mark": {"type": "point", "filled": true, "size": 26, "opacity": 1, "strokeWidth": 0, "clip": true},
   "encoding": {"color": {"field": "t", "type": "nominal", "scale": {"domain": ["h025", "h1", "h4", "h16"], "range": ["#404040", "#ee3a3a", "#2356d8", "#1b9a5c"]}, "legend": null}, "shape": {"field": "t", "type": "nominal", "scale": {"domain": ["h025", "h1", "h4", "h16"], "range": ["square", "circle", "triangle-up", "triangle-down"]}, "legend": null}}},
  {"transform": [{"filter": "false"}], "mark": {"type": "point", "filled": true, "size": 100, "opacity": 1, "strokeWidth": 1.5},
   "encoding": {
    "fill": {"field": "t", "type": "nominal", "scale": {"domain": ["h025", "h1", "h4", "h16"], "range": ["#404040", "#ee3a3a", "#2356d8", "#1b9a5c"]}, "legend": {"orient": "none", "legendX": 156, "legendY": 0, "title": null, "labelExpr": "datum.value == 'h025' ? '0.25h' : datum.value == 'h1' ? '1h' : datum.value == 'h4' ? '4h' : '16h'"}},
    "stroke": {"field": "t", "type": "nominal", "scale": {"domain": ["h025", "h1", "h4", "h16"], "range": ["#404040", "#ee3a3a", "#2356d8", "#1b9a5c"]}, "legend": {"orient": "none", "legendX": 156, "legendY": 0, "title": null, "labelExpr": "datum.value == 'h025' ? '0.25h' : datum.value == 'h1' ? '1h' : datum.value == 'h4' ? '4h' : '16h'"}},
    "shape": {"field": "t", "type": "nominal", "scale": {"domain": ["h025", "h1", "h4", "h16"], "range": ["M-1,0H8.2M2.9,-0.55H4V0.55H2.9Z", "M-1,0H8.2M2.85,0A0.6,0.6 0 1,0 4.05,0A0.6,0.6 0 1,0 2.85,0Z", "M-1,0H8.2M3.45,-0.7L4.15,0.5H2.75Z", "M-1,0H8.2M3.45,0.7L4.15,-0.5H2.75Z"]}, "legend": {"orient": "none", "legendX": 156, "legendY": 0, "title": null, "labelExpr": "datum.value == 'h025' ? '0.25h' : datum.value == 'h1' ? '1h' : datum.value == 'h4' ? '4h' : '16h'"}}}}
 ],
 "resolve": {"scale": {"shape": "independent", "fill": "independent", "stroke": "independent"}}
},
{
 "width": 285, "height": 237,
 "transform": [{"filter": "datum.p == 'b3'"}, {"fold": ["h025", "h1", "h4", "h16"], "as": ["t", "mc"]}],
 "encoding": {
  "x": {"field": "x", "type": "quantitative", "scale": {"domain": [-0.28, 0.263], "nice": false, "zero": false}, "axis": {"values": [-0.2, -0.1, 0, 0.1, 0.2], "format": ".1f", "title": "Z (mm)"}},
  "y": {"field": "mc", "type": "quantitative", "scale": {"domain": [0, 23], "nice": false}, "axis": null}
 },
 "layer": [
  {"mark": {"type": "line", "strokeWidth": 1.5, "clip": true}, "encoding": {"color": {"field": "t", "type": "nominal", "scale": {"domain": ["h025", "h1", "h4", "h16"], "range": ["#404040", "#ee3a3a", "#2356d8", "#1b9a5c"]}, "legend": null}}},
  {"mark": {"type": "point", "filled": true, "size": 26, "opacity": 1, "strokeWidth": 0, "clip": true},
   "encoding": {"color": {"field": "t", "type": "nominal", "scale": {"domain": ["h025", "h1", "h4", "h16"], "range": ["#404040", "#ee3a3a", "#2356d8", "#1b9a5c"]}, "legend": null}, "shape": {"field": "t", "type": "nominal", "scale": {"domain": ["h025", "h1", "h4", "h16"], "range": ["square", "circle", "triangle-up", "triangle-down"]}, "legend": null}}},
  {"transform": [{"filter": "false"}], "mark": {"type": "point", "filled": true, "size": 100, "opacity": 1, "strokeWidth": 1.5},
   "encoding": {
    "fill": {"field": "t", "type": "nominal", "scale": {"domain": ["h025", "h1", "h4", "h16"], "range": ["#404040", "#ee3a3a", "#2356d8", "#1b9a5c"]}, "legend": {"orient": "none", "legendX": 157, "legendY": 0, "title": null, "labelExpr": "datum.value == 'h025' ? '0.25h' : datum.value == 'h1' ? '1h' : datum.value == 'h4' ? '4h' : '16h'"}},
    "stroke": {"field": "t", "type": "nominal", "scale": {"domain": ["h025", "h1", "h4", "h16"], "range": ["#404040", "#ee3a3a", "#2356d8", "#1b9a5c"]}, "legend": {"orient": "none", "legendX": 157, "legendY": 0, "title": null, "labelExpr": "datum.value == 'h025' ? '0.25h' : datum.value == 'h1' ? '1h' : datum.value == 'h4' ? '4h' : '16h'"}},
    "shape": {"field": "t", "type": "nominal", "scale": {"domain": ["h025", "h1", "h4", "h16"], "range": ["M-1,0H8.2M2.9,-0.55H4V0.55H2.9Z", "M-1,0H8.2M2.85,0A0.6,0.6 0 1,0 4.05,0A0.6,0.6 0 1,0 2.85,0Z", "M-1,0H8.2M3.45,-0.7L4.15,0.5H2.75Z", "M-1,0H8.2M3.45,0.7L4.15,-0.5H2.75Z"]}, "legend": {"orient": "none", "legendX": 157, "legendY": 0, "title": null, "labelExpr": "datum.value == 'h025' ? '0.25h' : datum.value == 'h1' ? '1h' : datum.value == 'h4' ? '4h' : '16h'"}}}}
 ],
 "resolve": {"scale": {"shape": "independent", "fill": "independent", "stroke": "independent"}}
}
],
"config": {
 "font": "Liberation Sans",
 "view": {"stroke": "#555", "strokeWidth": 1.3},
 "axis": {"domain": false, "ticks": false, "tickSize": 0, "grid": false, "labelFont": "Liberation Sans", "labelFontSize": 18, "labelColor": "#222", "labelPadding": 7, "titleFont": "Liberation Sans, Noto Sans CJK SC", "titleFontSize": 24, "titleFontWeight": "normal", "titleColor": "#222", "titlePadding": 11, "labelFlush": false, "labelOverlap": false, "labelExpr": "replace(datum.label, '−', '-')"},
 "axisY": {"labelPadding": 6, "titlePadding": 2, "titleFontSize": 24},
 "legend": {"labelFont": "Liberation Sans", "labelFontSize": 20, "labelColor": "#222", "labelOffset": 40, "rowPadding": 5, "padding": 4, "symbolSize": 100, "symbolStrokeWidth": 1.5, "strokeColor": "#888", "fillColor": "white", "labelLimit": 200, "cornerRadius": 0, "strokeWidth": 1}
}
}
